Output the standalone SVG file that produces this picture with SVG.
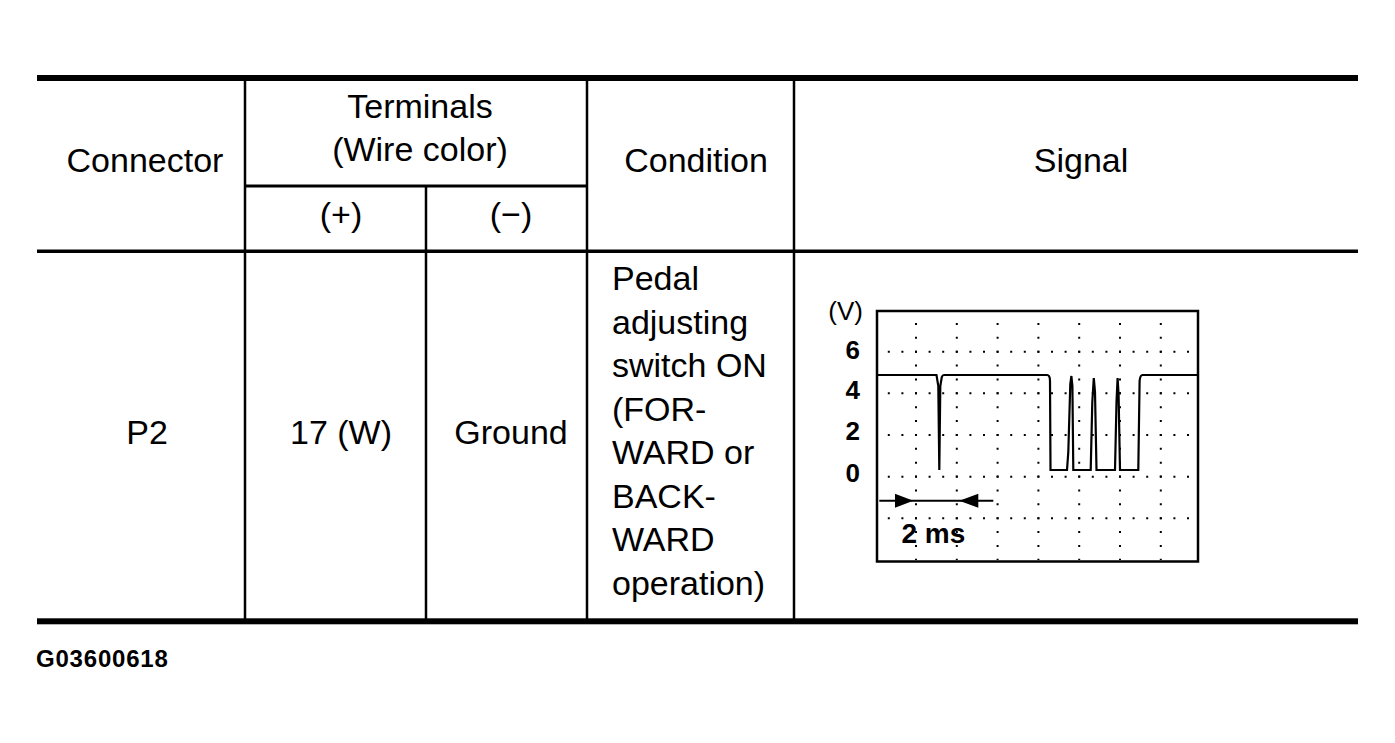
<svg xmlns="http://www.w3.org/2000/svg" width="1395" height="743" viewBox="0 0 1395 743">
<style>
text{font-family:"Liberation Sans",Arial,sans-serif;fill:#000}
.t{font-size:34px}
.c{text-anchor:middle}
.ax{font-size:26px;font-weight:bold;text-anchor:end}
.rule{stroke:#000;fill:none}
.dotsh{stroke:#000;stroke-width:2;stroke-dasharray:2 11.6}
.dotsv{stroke:#000;stroke-width:2;stroke-dasharray:2 11.88}
</style>
<rect width="1395" height="743" fill="#fff"/>
<g id="table-lines">
<rect x="37" y="75" width="1321" height="6" fill="#000"/>
<rect x="37" y="249.5" width="1321" height="3.5" fill="#000"/>
<rect x="37" y="618.3" width="1321" height="6" fill="#000"/>
<line class="rule" x1="245" y1="81" x2="245" y2="619" stroke-width="2.5"/>
<line class="rule" x1="587" y1="81" x2="587" y2="619" stroke-width="2.5"/>
<line class="rule" x1="794" y1="81" x2="794" y2="619" stroke-width="2.5"/>
<line class="rule" x1="426" y1="186" x2="426" y2="619" stroke-width="2.5"/>
<line class="rule" x1="245" y1="186" x2="587" y2="186" stroke-width="3"/>
</g>
<g id="header-connector"><text class="t c" x="145" y="172">Connector</text></g>
<g id="header-terminals">
<text class="t c" x="420" y="118">Terminals</text>
<text class="t c" x="420" y="161">(Wire color)</text>
</g>
<g id="header-plus"><text class="t c" x="341" y="226">(+)</text></g>
<g id="header-minus"><text class="t c" x="511" y="226">(−)</text></g>
<g id="header-condition"><text class="t c" x="696" y="172">Condition</text></g>
<g id="header-signal"><text class="t c" x="1081" y="172">Signal</text></g>
<g id="cell-connector"><text class="t c" x="147" y="444">P2</text></g>
<g id="cell-plus"><text class="t c" x="341" y="444">17 (W)</text></g>
<g id="cell-minus"><text class="t c" x="511" y="444">Ground</text></g>
<g id="cell-condition">
<text class="t" x="612" y="290">Pedal</text>
<text class="t" x="612" y="333.5">adjusting</text>
<text class="t" x="612" y="377">switch ON</text>
<text class="t" x="612" y="420.5">(FOR-</text>
<text class="t" x="612" y="464">WARD or</text>
<text class="t" x="612" y="507.5">BACK-</text>
<text class="t" x="612" y="551">WARD</text>
<text class="t" x="612" y="594.5">operation)</text>
</g>
<g id="cell-signal">
<g id="grid">
<line class="dotsh" x1="887.8" y1="351.7" x2="1197" y2="351.7"/>
<line class="dotsh" x1="887.8" y1="393.3" x2="1197" y2="393.3"/>
<line class="dotsh" x1="887.8" y1="435" x2="1197" y2="435"/>
<line class="dotsh" x1="887.8" y1="476.7" x2="1197" y2="476.7"/>
<line class="dotsh" x1="887.8" y1="518.3" x2="1197" y2="518.3"/>
<line class="dotsv" x1="916" y1="322.9" x2="916" y2="560"/>
<line class="dotsv" x1="956.8" y1="322.9" x2="956.8" y2="560"/>
<line class="dotsv" x1="997.6" y1="322.9" x2="997.6" y2="560"/>
<line class="dotsv" x1="1038.4" y1="322.9" x2="1038.4" y2="560"/>
<line class="dotsv" x1="1079.2" y1="322.9" x2="1079.2" y2="560"/>
<line class="dotsv" x1="1120" y1="322.9" x2="1120" y2="560"/>
<line class="dotsv" x1="1160.8" y1="322.9" x2="1160.8" y2="560"/>
</g>
<rect x="877" y="311" width="321" height="250.5" fill="none" stroke="#000" stroke-width="2.5"/>
<path d="M877,375 H936.5 L938.3,386 L939.3,470 L940.3,386 L941.8,377 Q942.5,375 944,375 H1047 Q1050,375 1050,381 L1050.5,470 H1067 L1068.3,452 L1070.3,384 L1071.4,376 L1072.4,386 L1073.3,470 H1090.7 L1092.3,402 L1093.8,378 L1095,392 L1096.5,470 H1115 L1116.5,402 L1117.6,378 L1118.6,395 L1120,470 H1138.3 L1139.6,381 Q1140.2,375 1142.5,375 H1198" fill="none" stroke="#000" stroke-width="2.2"/>
<text x="863" y="320" font-size="26" text-anchor="end">(V)</text>
<text class="ax" x="860" y="359.3">6</text>
<text class="ax" x="860" y="398.5">4</text>
<text class="ax" x="860" y="440">2</text>
<text class="ax" x="860" y="481.5">0</text>
<line x1="879.3" y1="500.7" x2="993.3" y2="500.7" stroke="#000" stroke-width="2"/>
<polygon points="895,493.7 913.3,500.7 895,507.7" fill="#000"/>
<polygon points="978.3,493.7 959.3,500.7 978.3,507.7" fill="#000"/>
<text x="901.5" y="543" font-size="28" font-weight="bold">2 ms</text>
</g>
<g id="figure-id"><text x="36" y="667" font-size="24" font-weight="bold" letter-spacing="0.8">G03600618</text></g>
</svg>
